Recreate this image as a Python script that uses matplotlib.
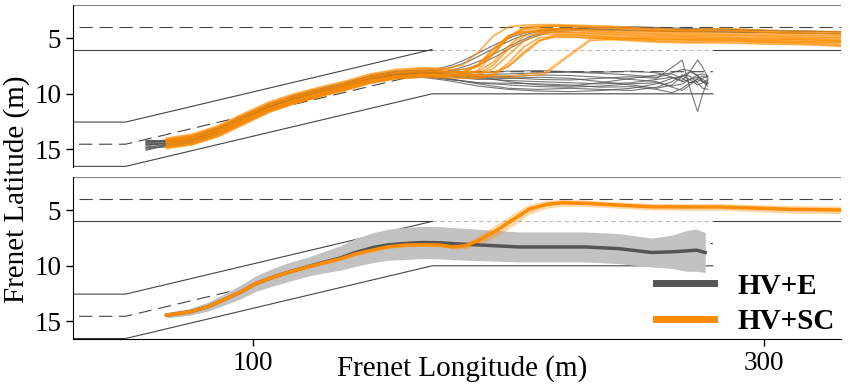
import numpy as np
import matplotlib
matplotlib.use('Agg')
import matplotlib.pyplot as plt

plt.rcParams['font.family'] = ['Liberation Serif', 'DejaVu Serif']

# ---- individual runs (top panel) ----
# orange runs (HV+SC), lateral position read at these longitudes
sc_x = [66, 76, 86, 96, 106, 116, 126, 136, 146, 156, 166, 176, 182, 188, 194,
        200, 206, 212, 218, 226, 240, 255, 270, 285, 300, 315, 330]
sc_runs = [
    [14.0, 13.65, 12.9, 11.8, 10.75, 10.0, 9.4, 8.85, 8.2, 7.8, 7.65, 7.7, 7.39, 6.26, 4.78,
     3.95, 3.8, 3.75, 3.75, 3.8, 3.9, 4.1, 4.2, 4.1, 4.25, 4.35, 4.4],
    [14.8, 14.5, 13.8, 12.7, 11.6, 10.85, 10.25, 9.7, 9.05, 8.65, 8.5, 8.55, 8.6, 8.6, 8.3,
     7.2, 5.75, 4.95, 4.8, 4.85, 5.0, 5.2, 5.3, 5.25, 5.35, 5.45, 5.6],
    [14.3, 13.9, 13.2, 12.1, 11.05, 10.3, 9.7, 9.15, 8.5, 8.1, 7.95, 8.0, 8.0, 7.53, 6.28,
     4.88, 4.18, 4.1, 4.1, 4.15, 4.3, 4.4, 4.5, 4.5, 4.6, 4.7, 4.75],
    [14.6, 14.3, 13.55, 12.45, 11.4, 10.65, 10.05, 9.5, 8.85, 8.45, 8.3, 8.35, 8.35, 8.25, 7.39,
     5.96, 4.81, 4.5, 4.45, 4.5, 4.7, 4.85, 4.9, 4.95, 5.05, 5.1, 5.2],
    [14.25, 13.95, 13.3, 12.3, 11.3, 10.55, 9.95, 9.4, 8.75, 8.35, 8.2, 8.2, 8.15, 7.42, 6.02,
     4.77, 4.35, 4.3, 4.25, 4.3, 4.5, 4.6, 4.75, 4.7, 4.8, 4.95, 4.95],
    [14.95, 14.6, 13.9, 12.8, 11.7, 10.9, 10.25, 9.6, 8.9, 8.45, 8.25, 8.3, 8.3, 8.3, 7.72,
     6.48, 5.23, 4.65, 4.6, 4.65, 4.85, 5.05, 5.1, 5.05, 5.2, 5.3, 5.35],
    [14.1, 13.75, 13.0, 11.95, 10.9, 10.1, 9.5, 8.95, 8.3, 7.9, 7.75, 7.8, 7.8, 7.49, 6.38,
     4.91, 4.1, 3.95, 3.9, 3.95, 4.1, 4.3, 4.35, 4.3, 4.45, 4.55, 4.6],
    [14.5, 14.2, 13.5, 12.4, 11.3, 10.55, 9.95, 9.4, 8.8, 8.4, 8.25, 8.3, 8.35, 8.35, 8.25,
     7.49, 6.21, 5.18, 4.9, 4.9, 5.1, 5.3, 5.4, 5.4, 5.5, 5.55, 5.7],
    [14.4, 14.05, 13.35, 12.2, 11.1, 10.4, 9.8, 9.25, 8.6, 8.2, 8.05, 8.05, 8.1, 8.0, 7.12,
     5.68, 4.51, 4.2, 4.15, 4.2, 4.4, 4.55, 4.6, 4.65, 4.75, 4.8, 4.9],
    [14.7, 14.4, 13.7, 12.55, 11.5, 10.75, 10.15, 9.55, 8.9, 8.5, 8.35, 8.35, 8.23, 7.36, 5.9,
     4.72, 4.45, 4.4, 4.4, 4.45, 4.6, 4.75, 4.8, 4.85, 4.95, 5.0, 5.1],
    [14.2, 13.85, 13.1, 12.0, 10.95, 10.25, 9.65, 9.1, 8.45, 8.05, 7.9, 7.95, 8.0, 8.05, 8.05,
     7.51, 6.38, 5.24, 4.7, 4.7, 4.9, 5.1, 5.15, 5.2, 5.3, 5.35, 5.45],
    [14.85, 14.55, 13.8, 12.7, 11.6, 10.8, 10.2, 9.6, 8.95, 8.55, 8.4, 8.4, 8.4, 7.86, 6.42,
     4.8, 3.99, 3.9, 3.85, 3.9, 4.0, 4.2, 4.3, 4.25, 4.4, 4.5, 4.55],
]
# two late orange runs that cut across
sc_late_x = [66, 86, 106, 126, 146, 166, 186, 200, 214, 232, 250, 270, 290, 310, 330]
sc_late_runs = [
    [14.6, 13.6, 11.45, 10.05, 8.85, 8.3, 8.35, 8.35, 8.1, 5.05, 4.9, 5.0, 5.0, 5.1, 5.2],
    [14.4, 13.4, 11.3, 9.9, 8.7, 8.2, 8.45, 8.5, 8.25, 5.2, 5.0, 5.1, 5.15, 5.2, 5.3],
]

# gray runs (HV+E) staying in the merge lane
e_x = [58, 66, 76, 86, 96, 106, 116, 126, 136, 146, 156, 166, 176, 188, 200,
       212, 224, 236, 248, 258, 264, 268, 271, 274, 276, 278]
e_runs = [
    [14.2, 14.25, 13.9, 13.15, 12.05, 11.0, 10.25, 9.65, 9.1, 8.45, 8.05, 7.95, 8.1, 8.25, 8.2,
     8.1, 8.05, 8.15, 8.3, 8.5, 8.2, 8.6, 9.0, 8.9, 8.6, 8.4],
    [15.0, 14.7, 14.35, 13.6, 12.5, 11.45, 10.7, 10.1, 9.55, 8.9, 8.5, 8.4, 8.65, 9.0, 9.2,
     9.35, 9.4, 9.3, 9.1, 9.0, 9.3, 9.1, 8.7, 8.5, 8.7, 9.0],
    [14.5, 14.45, 14.1, 13.4, 12.3, 11.25, 10.5, 9.9, 9.35, 8.7, 8.3, 8.2, 8.45, 8.7, 8.6,
     8.5, 8.6, 8.9, 9.2, 9.5, 9.2, 8.4, 8.0, 8.3, 8.9, 9.3],
    [14.8, 14.6, 14.2, 13.45, 12.35, 11.3, 10.6, 10.0, 9.45, 8.8, 8.4, 8.3, 8.6, 9.1, 9.5,
     9.6, 9.5, 9.6, 9.7, 9.4, 8.9, 8.3, 8.4, 9.0, 9.5, 9.6],
    [14.35, 14.35, 14.0, 13.25, 12.15, 11.1, 10.35, 9.75, 9.2, 8.55, 8.15, 8.05, 8.2, 8.4, 8.55,
     8.7, 8.75, 8.6, 8.45, 8.6, 7.6, 6.95, 9.5, 11.6, 10.0, 8.8],
    [14.4, 14.15, 13.8, 13.05, 11.95, 10.9, 10.15, 9.55, 9.0, 8.35, 7.95, 7.85, 8.0, 8.1, 7.95,
     7.9, 8.0, 8.05, 7.95, 8.1, 8.5, 8.9, 8.7, 8.3, 8.2, 8.4],
    [14.9, 14.8, 14.45, 13.7, 12.6, 11.55, 10.8, 10.2, 9.65, 9.0, 8.6, 8.5, 8.8, 9.3, 9.6,
     9.75, 9.8, 9.7, 9.5, 9.1, 8.6, 8.4, 8.7, 9.2, 9.0, 8.7],
    [14.6, 14.5, 14.15, 13.4, 12.25, 11.2, 10.45, 9.85, 9.3, 8.65, 8.25, 8.15, 8.35, 8.6, 8.8,
     8.9, 9.0, 9.1, 9.0, 8.7, 8.5, 8.8, 8.0, 6.95, 7.6, 8.5],
    [14.25, 14.3, 13.95, 13.2, 12.1, 11.05, 10.3, 9.7, 9.15, 8.5, 8.1, 8.0, 8.25, 8.5, 8.45,
     8.3, 8.35, 8.5, 8.7, 8.9, 9.4, 9.7, 9.2, 8.6, 8.4, 8.6],
    [15.1, 14.65, 14.3, 13.55, 12.45, 11.4, 10.65, 10.05, 9.5, 8.85, 8.45, 8.35, 8.7, 9.0, 9.05,
     9.1, 9.2, 9.4, 9.35, 9.6, 9.9, 9.5, 9.0, 8.7, 8.9, 9.1],
    [14.7, 14.4, 14.05, 13.3, 12.2, 11.15, 10.4, 9.8, 9.25, 8.6, 8.2, 8.1, 8.3, 8.45, 8.9,
     9.2, 9.3, 9.0, 8.6, 8.3, 8.1, 7.8, 7.9, 8.4, 8.9, 9.1],
]
# gray runs that changed lane early
e_early_x = [58, 66, 76, 86, 96, 106, 116, 126, 136, 146, 156, 166, 172, 178, 184,
             190, 196, 202, 208, 216, 230, 250, 270, 290, 310, 330]
e_early_runs = [
    [14.45, 14.3, 13.95, 13.2, 12.1, 11.05, 10.3, 9.7, 9.15, 8.5, 8.1, 7.95, 7.9, 7.6, 7.1,
     6.4, 5.7, 5.05, 4.55, 4.2, 4.1, 4.3, 4.4, 4.4, 4.5, 4.6],
    [14.9, 14.55, 14.2, 13.45, 12.35, 11.3, 10.55, 9.95, 9.4, 8.75, 8.35, 8.2, 8.1, 7.85, 7.45,
     6.9, 6.2, 5.5, 4.85, 4.3, 4.0, 4.05, 4.2, 4.25, 4.3, 4.4],
    [14.3, 14.25, 13.9, 13.15, 12.05, 11.0, 10.25, 9.65, 9.1, 8.45, 8.05, 7.9, 7.75, 7.4, 6.8,
     6.1, 5.4, 4.8, 4.4, 4.15, 4.05, 3.95, 4.1, 4.2, 4.35, 4.4],
    [14.6, 14.5, 14.1, 13.35, 12.25, 11.2, 10.45, 9.85, 9.3, 8.65, 8.25, 8.1, 8.05, 7.95, 7.7,
     7.2, 6.5, 5.7, 5.0, 4.45, 4.2, 4.25, 4.35, 4.45, 4.5, 4.55],
]

# ---- mean and spread (bottom panel) ----
sc_mean_x = [66, 75, 82, 88, 95, 101, 108, 114, 121, 127, 134, 140, 147, 153, 160, 166, 173,
             178, 183, 188, 195, 202, 208, 215, 221, 230, 243, 256, 270, 283, 296, 310, 330]
sc_mean = [14.45, 14.15, 13.7, 13.1, 12.36, 11.6, 11.0, 10.57, 10.12, 9.77, 9.38, 8.93, 8.57,
           8.28, 8.13, 8.1, 8.13, 8.3, 8.2, 7.74, 6.85, 5.8, 4.9, 4.46, 4.32, 4.37, 4.53, 4.68,
           4.7, 4.7, 4.8, 4.91, 4.97]
sc_std = [0.12, 0.12, 0.12, 0.13, 0.14, 0.15, 0.15, 0.15, 0.15, 0.15, 0.15, 0.15, 0.15, 0.15,
          0.15, 0.15, 0.15, 0.18, 0.25, 0.4, 0.55, 0.55, 0.45, 0.35, 0.3, 0.28, 0.28, 0.3, 0.3,
          0.3, 0.32, 0.35, 0.35]

e_mean_x = [66, 75, 82, 88, 95, 101, 108, 114, 121, 127, 134, 140, 147, 153, 160, 166, 173,
            178, 191, 204, 217, 230, 243, 256, 264, 270, 273.5, 277]
e_mean = [14.45, 14.15, 13.7, 13.1, 12.36, 11.6, 11.0, 10.55, 10.1, 9.72, 9.3, 8.8, 8.35,
          8.1, 7.98, 7.9, 7.92, 8.0, 8.15, 8.3, 8.3, 8.3, 8.45, 8.8, 8.74, 8.65, 8.59, 8.8]
e_std = [0.25, 0.3, 0.4, 0.5, 0.62, 0.7, 0.8, 0.85, 0.85, 0.95, 1.1, 1.25, 1.35, 1.4, 1.45,
         1.45, 1.45, 1.45, 1.4, 1.35, 1.35, 1.35, 1.35, 1.3, 1.5, 1.85, 1.9, 1.8]

# ---- road markings ----
main_edge = 2.0
main_center = 4.0
lane_x = [0, 50, 170, 280]
ramp_left = [12.55, 12.55, 6.0]
ramp_center = [14.55, 14.55, 8.0, 8.0]
ramp_right = [16.55, 16.55, 10.0, 10.0]

GRAY = '#555555'
ORANGE = '#ff8c00'
DASH = (0, (12, 6))


def draw_road(ax):
    kw = dict(color='#444444', lw=0.8, zorder=1)
    ax.plot([0, 340], [main_edge, main_edge], color='#888888', lw=1.6, zorder=1)
    ax.plot([0, 340], [main_center, main_center], ls=DASH, **kw)
    ax.plot([0, 170], [6.0, 6.0], **kw)
    ax.plot([170, 280], [6.0, 6.0], color='#bbbbbb', lw=0.8, ls=(0, (4, 3)), zorder=1)
    ax.plot([280, 340], [6.0, 6.0], **kw)
    ax.plot(lane_x[:3], ramp_left, **kw)
    ax.plot(lane_x, ramp_center, ls=DASH, **kw)
    ax.plot(lane_x, ramp_right, **kw)


fig = plt.figure(figsize=(8.5, 3.86), dpi=100)
ax1 = fig.add_axes([0.0859, 0.567, 0.903, 0.42])
ax2 = fig.add_axes([0.0859, 0.121, 0.903, 0.421])

for ax in (ax1, ax2):
    draw_road(ax)
    ax.set_xlim(29.4, 330)
    ax.set_ylim(16.62, 1.98)
    ax.set_yticks([5, 10, 15])
    ax.spines['top'].set_visible(False)
    ax.spines['right'].set_visible(False)
    ax.tick_params(labelsize=19.5, length=5, width=1)

ax1.spines['bottom'].set_visible(False)
ax1.set_xticks([])

# top: all runs
for run in e_runs:
    ax1.plot(e_x, run, color=GRAY, lw=0.8, alpha=0.8, zorder=2)
for run in e_early_runs:
    ax1.plot(e_early_x, run, color=GRAY, lw=0.8, alpha=0.8, zorder=2)
for run in sc_runs:
    ax1.plot(sc_x, run, color=ORANGE, lw=1.2, alpha=0.7, zorder=3)
for run in sc_late_runs:
    ax1.plot(sc_late_x, run, color=ORANGE, lw=0.8, alpha=0.75, zorder=3)

# bottom: mean +- std
em, es = np.array(e_mean), np.array(e_std)
sm, ss = np.array(sc_mean), np.array(sc_std)
ax2.fill_between(e_mean_x, em - es, em + es, color='#c2c2c2', lw=0, zorder=2)
ax2.fill_between(sc_mean_x, sm - ss, sm + ss, color=ORANGE, alpha=0.35, lw=0, zorder=3)
ax2.plot(e_mean_x, e_mean, color=GRAY, lw=2.5, zorder=4, label='HV+E')
ax2.plot(sc_mean_x, sc_mean, color=ORANGE, lw=2.5, zorder=5, label='HV+SC')
ax2.set_xticks([100, 300])

leg = ax2.legend(loc='lower right', bbox_to_anchor=(1.012, -0.065), frameon=False,
                 prop={'weight': 'bold', 'size': 21}, handlelength=2.0, handletextpad=0.8,
                 labelspacing=0.3, borderaxespad=0.1)
for line in leg.get_lines():
    line.set_linewidth(5)

fig.text(0.544, 0.045, 'Frenet Longitude (m)', ha='center', va='center', fontsize=21)
fig.text(0.019, 0.51, 'Frenet Latitude (m)', ha='center', va='center', fontsize=21,
         rotation=90)

fig.savefig('out.png', dpi=100)
